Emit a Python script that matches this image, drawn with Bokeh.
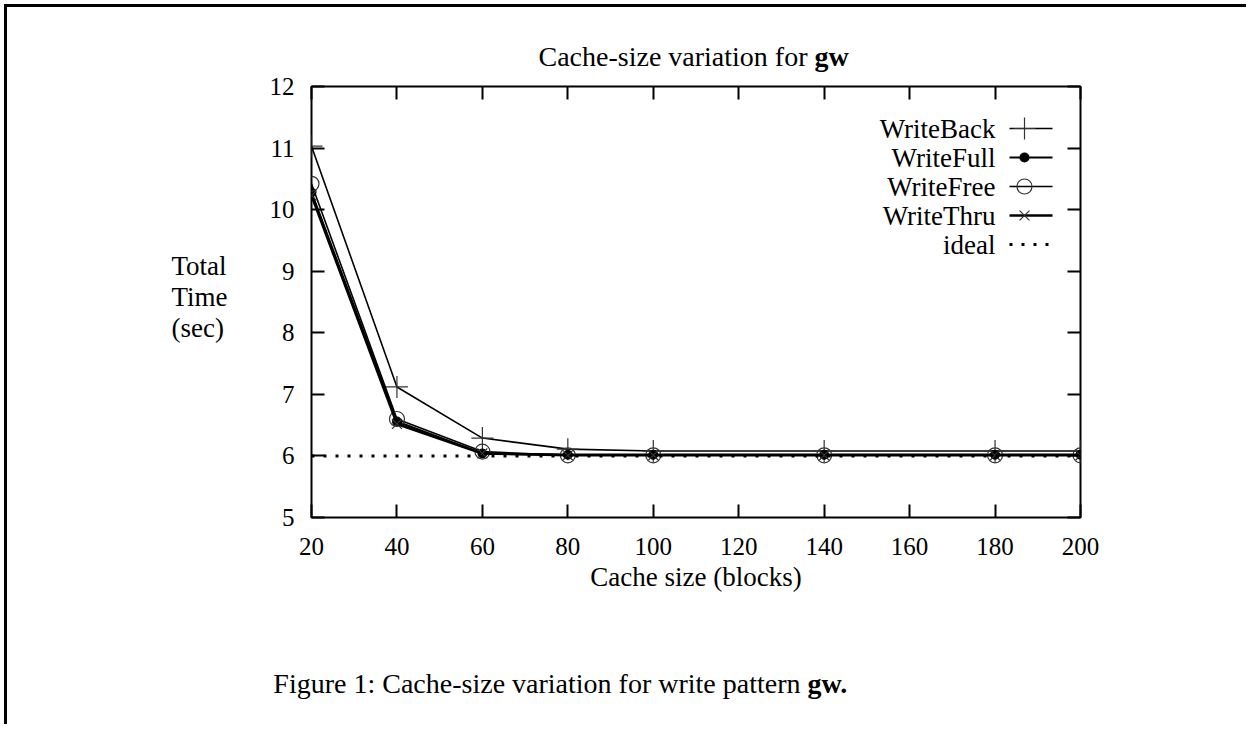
from bokeh.plotting import figure
from bokeh.models import LinearAxis, FixedTicker, Range1d, Label
from bokeh.core.properties import value
from bokeh.embed import file_html
from bokeh.resources import INLINE

# ---------------- data ----------------
cache_sizes = [20, 40, 60, 80, 100, 140, 180, 200]
write_back = [11.03, 7.12, 6.29, 6.11, 6.08, 6.08, 6.08, 6.08]
write_full = [10.28, 6.56, 6.04, 6.02, 6.02, 6.02, 6.02, 6.02]
write_free = [10.42, 6.60, 6.07, 6.01, 6.01, 6.01, 6.01, 6.01]
write_thru = [10.23, 6.52, 6.04, 6.01, 6.01, 6.01, 6.01, 6.01]
ideal = [6.0, 6.0, 6.0, 6.0, 6.0, 6.0, 6.0, 6.0]

series_names = ["WriteBack", "WriteFull", "WriteFree", "WriteThru", "ideal"]
x_ticks = [20, 40, 60, 80, 100, 120, 140, 160, 180, 200]
y_ticks = [5, 6, 7, 8, 9, 10, 11, 12]

title_text = "Cache-size variation for"
title_bold = "gw"
x_label = "Cache size (blocks)"
y_label_lines = ["Total", "Time", "(sec)"]
caption_text = "Figure 1: Cache-size variation for write pattern"
caption_bold = "gw."

# ---------------- layout constants (pixels) ----------------
OFFX, OFFY = 7, 7                 # page position of the canvas (margin 4 + border 3)
W, H = 1242, 720
FRAME_PAGE_L, FRAME_PAGE_T = 311, 86
FRAME_W, FRAME_H = 769, 431
MB_L = FRAME_PAGE_L - OFFX
MB_T = FRAME_PAGE_T - OFFY
MB_R = W - MB_L - FRAME_W
MB_B = H - MB_T - FRAME_H
FONT = "Liberation Serif"

p = figure(width=W, height=H, output_backend="svg", toolbar_location=None, title=None,
           x_range=Range1d(x_ticks[0], x_ticks[-1]), y_range=Range1d(y_ticks[0], y_ticks[-1]),
           min_border_left=MB_L, min_border_top=MB_T, min_border_right=MB_R, min_border_bottom=MB_B,
           x_axis_location=None, y_axis_location=None,
           styles={"border-top": "3px solid black", "border-left": "3px solid black",
                   "margin-left": "4px", "margin-top": "4px"})
p.grid.visible = False
p.outline_line_color = "black"
p.outline_line_width = 2
p.background_fill_color = "white"
p.border_fill_color = "white"


def make_axis(ticks, labels=True):
    ax = LinearAxis(ticker=FixedTicker(ticks=ticks))
    ax.axis_line_color = None
    ax.major_tick_in = 13
    ax.major_tick_out = 0
    ax.major_tick_line_width = 2
    ax.major_tick_line_color = "black"
    ax.minor_tick_line_color = None
    ax.major_label_text_font = FONT
    if labels:
        ax.major_label_text_font_size = "25px"
        ax.major_label_text_color = "black"
    else:
        ax.major_label_text_font_size = "0px"
        ax.major_label_text_color = None
        ax.major_label_standoff = 0
    return ax

bottom = make_axis(x_ticks)
bottom.major_label_standoff = 20
bottom.axis_label = x_label
bottom.axis_label_text_font = FONT
bottom.axis_label_text_font_size = "27px"
bottom.axis_label_text_font_style = "normal"
bottom.axis_label_text_color = "black"
bottom.axis_label_standoff = 4
p.add_layout(bottom, "below")

yaxis = make_axis(y_ticks)
yaxis.major_label_standoff = 17
p.add_layout(yaxis, "left")

p.add_layout(make_axis(x_ticks, labels=False), "above")
p.add_layout(make_axis(y_ticks, labels=False), "right")

p.line(cache_sizes, write_back, line_color="black", line_width=1.6)
p.scatter(cache_sizes, write_back, marker="cross", size=22, line_color="#333333", line_width=1.2)

p.line(cache_sizes, write_full, line_color="black", line_width=2.2)
p.scatter(cache_sizes, write_full, marker="circle", size=9, fill_color="black", line_color="black")

p.line(cache_sizes, write_free, line_color="black", line_width=1.6)
p.scatter(cache_sizes, write_free, marker="circle", size=15, fill_color=None, line_color="#333333", line_width=1.2)

p.line(cache_sizes, write_thru, line_color="black", line_width=2.6)
p.scatter(cache_sizes, write_thru, marker="x", size=14, line_color="#333333", line_width=1.2)

p.line(cache_sizes, ideal, line_color="black", line_width=3, line_dash="3 9")

# page-pixel -> data helpers (for text / key placement)
xr, yr = p.x_range, p.y_range

def dx(page_x):
    return xr.start + (page_x - FRAME_PAGE_L) * (xr.end - xr.start) / FRAME_W

def dy(page_y):
    return yr.end - (page_y - FRAME_PAGE_T) * (yr.end - yr.start) / FRAME_H

# legend: text at left of the sample (gnuplot key)
styles = [
    dict(lw=1.6, dash="solid", marker="cross", size=22, fill=None, lc="#333333"),
    dict(lw=2.2, dash="solid", marker="circle", size=9, fill="black", lc="black"),
    dict(lw=1.6, dash="solid", marker="circle", size=15, fill=None, lc="#333333"),
    dict(lw=2.6, dash="solid", marker="x", size=14, fill=None, lc="#333333"),
    dict(lw=3, dash="3 9", marker=None, size=0, fill=None, lc="black"),
]
for i, (name, st) in enumerate(zip(series_names, styles)):
    yy = dy(128 + i * 29)
    p.text(x=[dx(995)], y=[yy], text=[name], text_font=value(FONT), text_font_size=value("27px"),
           text_align="right", text_baseline="middle", text_color="black")
    p.line([dx(1009), dx(1052)], [yy, yy], line_color="black", line_width=st["lw"], line_dash=st["dash"])
    if st["marker"]:
        p.scatter([dx(1024)], [yy], marker=st["marker"], size=st["size"], fill_color=st["fill"],
                  line_color=st["lc"], line_width=1.2)


def side_label(side, page_x, page_y, s, size, align, bold=False):
    p.add_layout(Label(x=dx(page_x), y=dy(page_y), text=s, text_align=align, text_baseline="middle",
                       text_font=FONT, text_font_size=size, text_color="black",
                       text_font_style="bold" if bold else "normal"), side)

# title (outside frame -> side panels so it is not clipped)
side_label("above", 807, 56, title_text, "28px", "right")
side_label("right", 814, 56, title_bold, "28px", "left", bold=True)

# y title
for i, s in enumerate(y_label_lines):
    side_label("left", 171, 265 + i * 31, s, "27px", "left")

# caption
side_label("below", 800, 683, caption_text, "28px", "right")
side_label("right", 807, 683, caption_bold, "28px", "left", bold=True)

open("out.html", "w").write(file_html(p, INLINE))
